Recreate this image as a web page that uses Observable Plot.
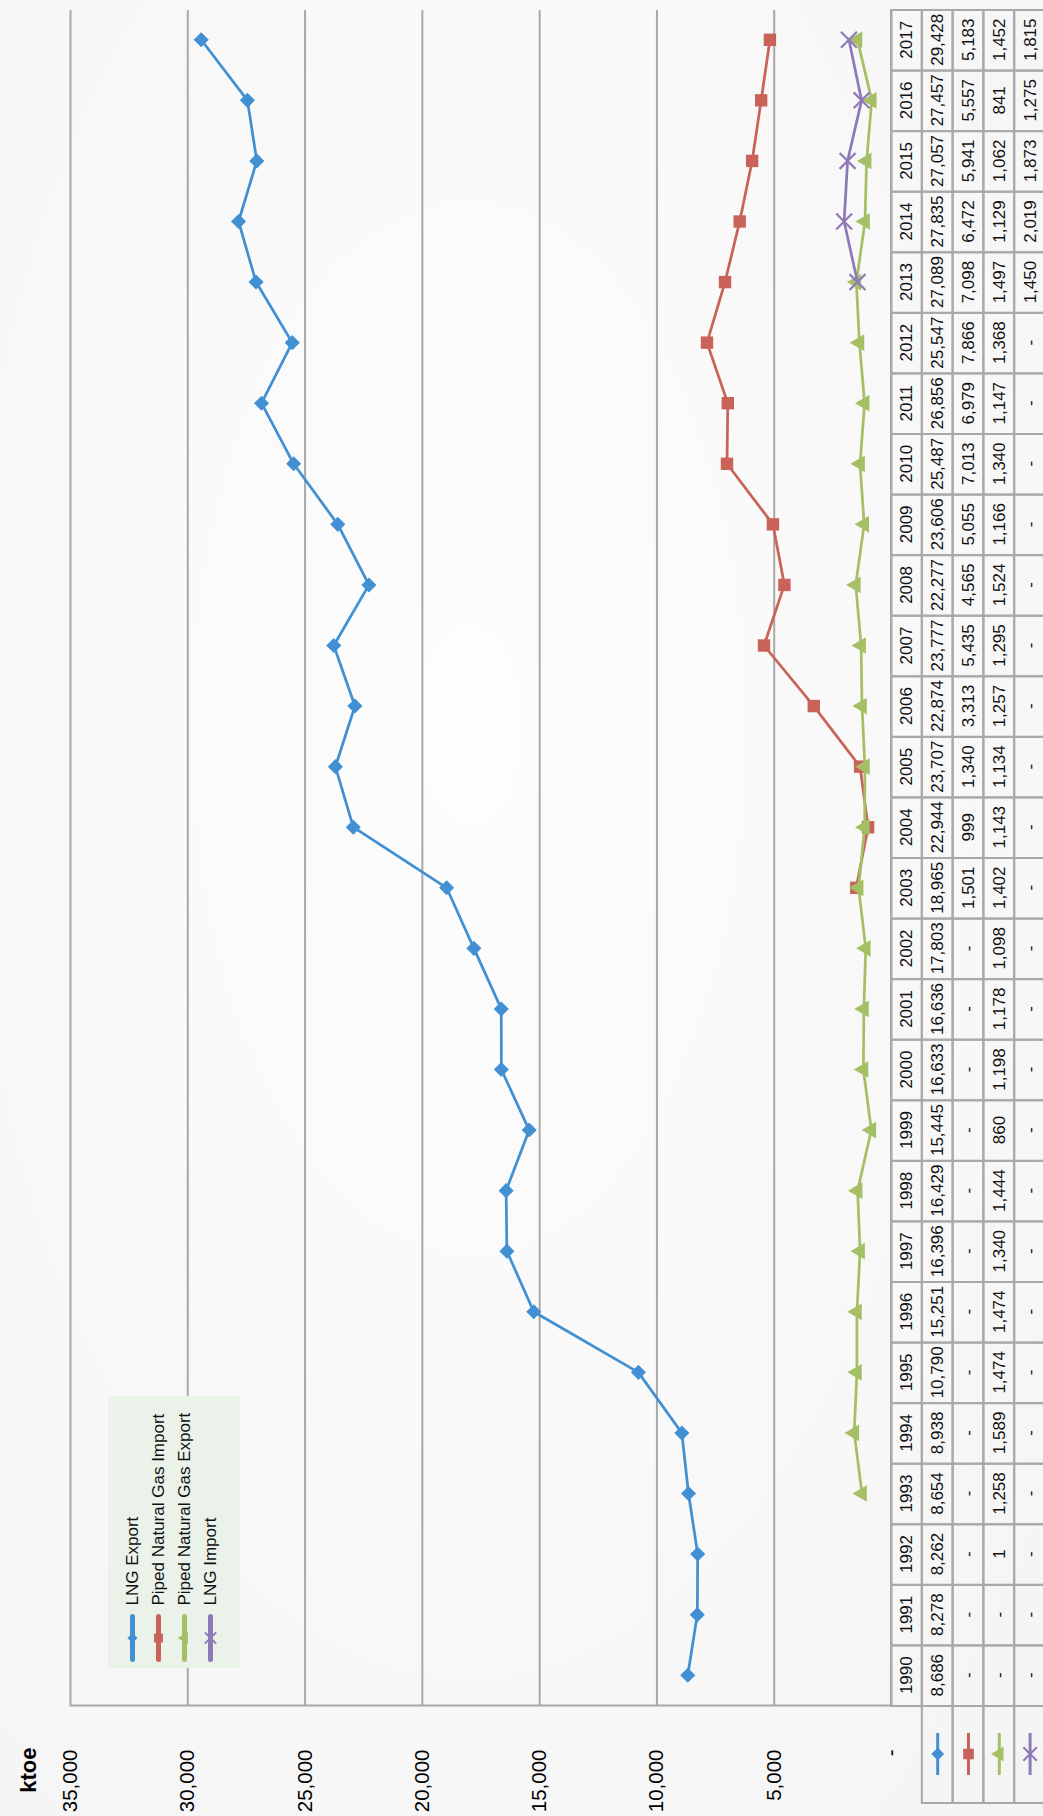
<!DOCTYPE html>
<html>
<head>
<meta charset="utf-8">
<script src="https://cdn.jsdelivr.net/npm/d3@7"></script>
<script src="https://cdn.jsdelivr.net/npm/@observablehq/plot@0.6"></script>
<style>
  html, body { margin: 0; padding: 0; overflow: hidden; background: #f8f8f8; }
  #page { position: relative; width: 1043px; height: 1816px; overflow: hidden;
          background: radial-gradient(ellipse at 45% 40%, #fdfdfd 0%, #f7f7f7 70%, #f4f4f4 100%); }
  #rot { position: absolute; left: 0; top: 0; width: 1816px; height: 1043px;
         transform-origin: 0 0; transform: translate(0, 1816px) rotate(-90deg); }
  #rot svg { position: absolute; background: transparent; overflow: visible; }
</style>
</head>
<body>
<div id="page"><div id="rot"></div></div>
<script>
// ---------- data ----------
const years = [1990,1991,1992,1993,1994,1995,1996,1997,1998,1999,2000,2001,2002,2003,
               2004,2005,2006,2007,2008,2009,2010,2011,2012,2013,2014,2015,2016,2017];
const lngExport = [8686,8278,8262,8654,8938,10790,15251,16396,16429,15445,16633,16636,17803,18965,
                   22944,23707,22874,23777,22277,23606,25487,26856,25547,27089,27835,27057,27457,29428];
const pipedImport = [null,null,null,null,null,null,null,null,null,null,null,null,null,1501,
                     999,1340,3313,5435,4565,5055,7013,6979,7866,7098,6472,5941,5557,5183];
const pipedExport = [null,null,1,1258,1589,1474,1474,1340,1444,860,1198,1178,1098,1402,
                     1143,1134,1257,1295,1524,1166,1340,1147,1368,1497,1129,1062,841,1452];
const lngImport = [null,null,null,null,null,null,null,null,null,null,null,null,null,null,
                   null,null,null,null,null,null,null,null,null,1450,2019,1873,1275,1815];
const seriesNames = ["LNG Export","Piped Natural Gas Import","Piped Natural Gas Export","LNG Import"];
const seriesValues = [lngExport, pipedImport, pipedExport, lngImport];
const seriesColors = ["#4190d3","#c9635a","#a5c064","#8f7ab8"];
const seriesSymbols = ["diamond2","square","triangle","times"];
const yTicks = [0,5000,10000,15000,20000,25000,30000,35000];
const unitLabel = "ktoe";

// ---------- fonts ----------
function fontWorks(name) {
  const ctx = document.createElement("canvas").getContext("2d");
  const s = "Piped Natural Gas Import 0123456789";
  ctx.font = "40px monospace"; const a = ctx.measureText(s).width;
  ctx.font = `40px "${name}", monospace`; const b = ctx.measureText(s).width;
  return Math.abs(a - b) > 1;
}
const narrow = fontWorks("Liberation Sans Narrow");
const FONT = narrow ? '"Liberation Sans Narrow", "Liberation Sans", Arial, sans-serif'
                    : '"Liberation Sans", Arial, sans-serif';
const SZ = narrow ? {axis: 24, legend: 21, table: 20} : {axis: 20.5, legend: 17, table: 17};

// ---------- layout ----------
const W = 1816, ML = 110, MR = 10;
const xDomain = [years[0] - 0.5, years[years.length - 1] + 0.5];
const pxPerYear = (W - ML - MR) / (xDomain[1] - xDomain[0]);
const keyLeft = xDomain[0] - 97 / pxPerYear;
const keyMid = xDomain[0] - 48.5 / pxPerYear;
const keyHalf = 21 / pxPerYear;
const GRID = "#a8a8a8";
const fmt = d3.format(",");

const rot = document.getElementById("rot");

// ---------- main chart ----------
const points = seriesNames.map((name, s) =>
  years.map((year, i) => ({year, value: seriesValues[s][i], series: name}))
       .filter(d => d.value != null && d.value > 1)); // 1992 export of 1 is not plotted in the source

const chartMarks = [
  Plot.ruleY(yTicks.filter(v => v > 0), {stroke: GRID, strokeWidth: 2}),
  Plot.ruleX([xDomain[0]], {y1: yTicks[0], y2: yTicks[yTicks.length - 1], stroke: GRID, strokeWidth: 2}),
  Plot.ruleY([0], {stroke: GRID, strokeWidth: 2})
];
points.forEach((pts, s) => {
  chartMarks.push(Plot.line(pts, {x: "year", y: "value", stroke: seriesColors[s], strokeWidth: 2.75}));
  const sym = seriesSymbols[s];
  const r = {diamond2: 6.8, square: 7, triangle: 6.2, times: 7.3}[sym];
  chartMarks.push(Plot.dot(pts, sym === "times"
    ? {x: "year", y: "value", symbol: sym, r, stroke: seriesColors[s], strokeWidth: 2.2, fill: "none"}
    : {x: "year", y: "value", symbol: sym, r, fill: seriesColors[s], stroke: "none"}));
});
chartMarks.push(Plot.text([unitLabel], {text: d => d, frameAnchor: "top-left", dx: -42, dy: -50,
  textAnchor: "end", fontWeight: "bold", fontSize: 22, fontFamily: '"Liberation Sans", Arial, sans-serif', fill: "#000"}));

const chart = Plot.plot({
  width: W, height: 892,
  marginLeft: ML, marginRight: MR, marginTop: 70, marginBottom: 1,
  style: {background: "transparent", fontFamily: FONT, fontSize: SZ.axis + "px", color: "#000"},
  x: {domain: xDomain, axis: null},
  y: {domain: [yTicks[0], yTicks[yTicks.length - 1]], ticks: yTicks,
      tickFormat: v => v === 0 ? "-" : fmt(v), tickSize: 0, tickPadding: 44, label: null},
  marks: chartMarks
});
chart.style.left = "0px"; chart.style.top = "0px";
rot.appendChild(chart);

// ---------- data table ----------
const rowCount = 1 + seriesNames.length;
const cells = [];
years.forEach((year, i) => {
  cells.push({year, row: 0, label: String(year)});
  seriesValues.forEach((vals, s) => {
    cells.push({year, row: s + 1, label: vals[i] == null ? "-" : fmt(vals[i])});
  });
});
const keyRows = seriesNames.map((name, s) => ({row: s + 1, s}));

const tableMarks = [
  Plot.rect(cells, {x1: d => d.year - 0.5, x2: d => d.year + 0.5, y1: "row", y2: d => d.row + 1,
    fill: "none", stroke: GRID, strokeWidth: 2}),
  Plot.rect(keyRows, {x1: () => keyLeft, x2: () => xDomain[0], y1: "row", y2: d => d.row + 1,
    fill: "none", stroke: GRID, strokeWidth: 2}),
  Plot.text(cells, {x: "year", y: d => d.row + 0.5, text: "label", fill: "#111", fontSize: SZ.table})
];
keyRows.forEach(k => {
  const c = seriesColors[k.s], sym = seriesSymbols[k.s];
  tableMarks.push(Plot.link([k], {x1: () => keyMid - keyHalf, x2: () => keyMid + keyHalf,
    y1: d => d.row + 0.5, y2: d => d.row + 0.5, stroke: c, strokeWidth: 3}));
  const r = {diamond2: 5.8, square: 6, triangle: 5.4, times: 6.2}[sym];
  tableMarks.push(Plot.dot([k], sym === "times"
    ? {x: () => keyMid, y: d => d.row + 0.5, symbol: sym, r, stroke: c, strokeWidth: 2, fill: "none"}
    : {x: () => keyMid, y: d => d.row + 0.5, symbol: sym, r, fill: c, stroke: "none"}));
});

const table = Plot.plot({
  width: W, height: 154,
  marginLeft: ML, marginRight: MR, marginTop: 0, marginBottom: 0,
  style: {background: "transparent", fontFamily: FONT, fontSize: SZ.table + "px", color: "#000"},
  x: {domain: xDomain, axis: null},
  y: {domain: [0, rowCount], reverse: true, axis: null},
  marks: tableMarks
});
table.style.left = "0px"; table.style.top = "891px";
rot.appendChild(table);

// ---------- legend ----------
const legendRows = seriesNames.map((name, s) => ({name, s}));
const legendMarks = [];
legendRows.forEach(l => {
  const c = seriesColors[l.s], sym = seriesSymbols[l.s];
  legendMarks.push(Plot.link([l], {x1: 0, x2: 1, y1: d => d.s + 0.5, y2: d => d.s + 0.5,
    stroke: c, strokeWidth: 5, strokeLinecap: "round"}));
  const r = {diamond2: 4.6, square: 5, triangle: 4.4, times: 5.2}[sym];
  legendMarks.push(Plot.dot([l], sym === "times"
    ? {x: 0.5, y: d => d.s + 0.5, symbol: sym, r, stroke: c, strokeWidth: 2, fill: "none"}
    : {x: 0.5, y: d => d.s + 0.5, symbol: sym, r, fill: c, stroke: "none"}));
});
legendMarks.push(Plot.text(legendRows, {x: 1, y: d => d.s + 0.5, text: "name", dx: 11,
  textAnchor: "start", fill: "#111", fontSize: SZ.legend}));

const legend = Plot.plot({
  width: 272, height: 132,
  marginLeft: 8, marginRight: 221, marginTop: 11, marginBottom: 17,
  style: {background: "#ebf2ea", fontFamily: FONT, fontSize: SZ.legend + "px"},
  x: {domain: [0, 1], axis: null},
  y: {domain: [0, seriesNames.length], reverse: true, axis: null},
  marks: legendMarks
});
legend.style.left = "148px"; legend.style.top = "108px";
legend.style.overflow = "hidden";
legend.style.background = "#ebf2ea";
rot.appendChild(legend);
</script>
</body>
</html>
